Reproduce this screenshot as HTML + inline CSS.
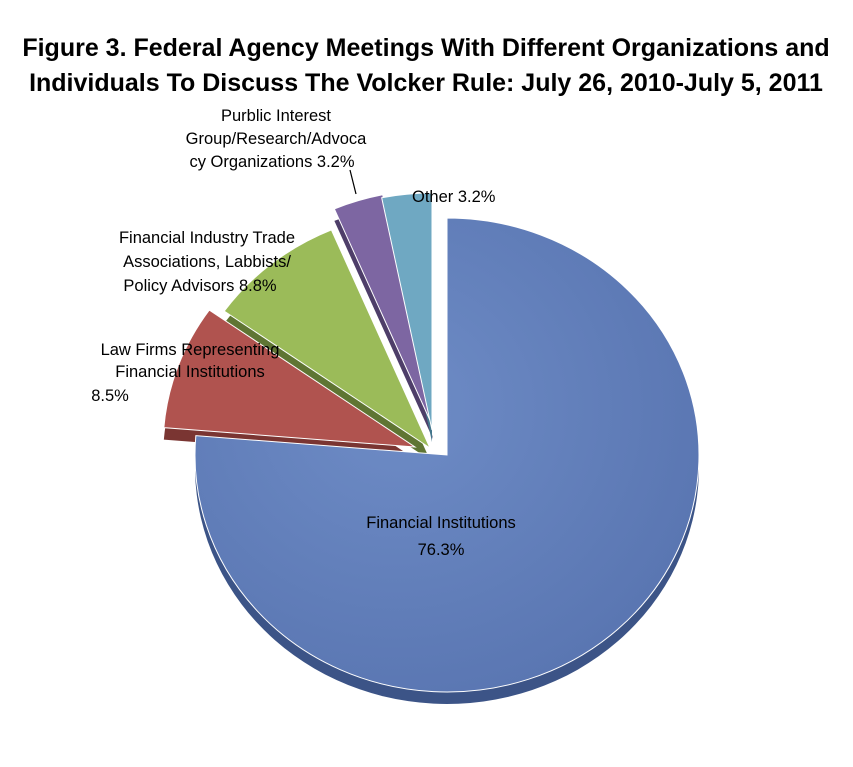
<!DOCTYPE html>
<html><head><meta charset="utf-8"><style>
html,body{margin:0;padding:0;background:#fff;width:853px;height:767px;overflow:hidden}
svg{display:block}
text{font-family:"Liberation Sans",sans-serif}
</style></head><body>
<svg id="chart" width="853" height="767">
<defs>
<radialGradient id="gBlue" cx="0.4" cy="0.4" r="0.7"><stop offset="0" stop-color="#6e8cc6"/><stop offset="1" stop-color="#5874b0"/></radialGradient>
</defs>
<text x="426" y="56" text-anchor="middle" font-size="25" font-weight="bold" fill="#000">Figure 3. Federal Agency Meetings With Different Organizations and</text>
<text x="426" y="91" text-anchor="middle" font-size="25" font-weight="bold" fill="#000">Individuals To Discuss The Volcker Rule: July 26, 2010-July 5, 2011</text>
<g id="slices"></g>
<g id="labels" font-size="16.5" fill="#000">
<text x="441" y="528" text-anchor="middle"><tspan x="441">Financial Institutions</tspan><tspan x="441" dy="27">76.3%</tspan></text>
<text x="190" y="355" text-anchor="middle"><tspan x="190">Law Firms Representing</tspan><tspan x="190" dy="22">Financial Institutions</tspan><tspan x="110" dy="24">8.5%</tspan></text>
<text x="207" y="243" text-anchor="middle"><tspan x="207">Financial  Industry Trade</tspan><tspan x="207" dy="24">Associations, Labbists/</tspan><tspan x="200" dy="24">Policy Advisors  8.8%</tspan></text>
<text x="276" y="121" text-anchor="middle"><tspan x="276">Purblic  Interest</tspan><tspan x="276" dy="23">Group/Research/Advoca</tspan><tspan x="272" dy="23">cy Organizations 3.2%</tspan></text>
<text x="412" y="202">Other 3.2%</text>
</g>
<line x1="350" y1="170" x2="356" y2="194" stroke="#000" stroke-width="1.2"/>
</svg>
<script>
const categories = ["Financial Institutions","Law Firms Representing Financial Institutions","Financial Industry Trade Associations, Labbists/Policy Advisors","Purblic Interest Group/Research/Advocacy Organizations","Other"];
const values = [76.3, 8.5, 8.8, 3.2, 3.2];
const colors = ["#6480bb","#b0534f","#9bbb59","#7d66a2","#6fa8c2"];
const sideColors = ["#3c5487","#7a3532","#5f7533","#4e3e69","#44768c"];
const explodeX = [0,-32,-17,-14,-15];
const explodeY = [0,-8,-7,-28,-25];
const cx=447, cy=455, rx=252, ry=237, depth=12;
const g=document.getElementById('slices');
const ns="http://www.w3.org/2000/svg";
const total=values.reduce((a,b)=>a+b,0);
function pt(x0,y0,a,dy){return [x0+rx*Math.sin(a), y0-ry*Math.cos(a)+(dy||0)];}
function arcPath(x0,y0,a0,a1,dy){
  const p0=pt(x0,y0,a0,dy), p1=pt(x0,y0,a1,dy);
  const large=(a1-a0)>Math.PI?1:0;
  return `M${x0},${y0+(dy||0)} L${p0[0]},${p0[1]} A${rx},${ry} 0 ${large} 1 ${p1[0]},${p1[1]} Z`;
}
let acc=0;
const geo=[];
values.forEach((v,i)=>{
  const a0=acc/total*2*Math.PI; acc+=v; const a1=acc/total*2*Math.PI;
  geo.push([a0,a1,cx+explodeX[i],cy+explodeY[i]]);
});
geo.forEach((s,i)=>{
  const p=document.createElementNS(ns,'path');
  p.setAttribute('d',arcPath(s[2],s[3],s[0],s[1],depth));
  p.setAttribute('fill',sideColors[i]);
  
  
  g.appendChild(p);
});
geo.forEach((s,i)=>{
  const p=document.createElementNS(ns,'path');
  p.setAttribute('d',arcPath(s[2],s[3],s[0],s[1],0));
  p.setAttribute('fill',i===0?'url(#gBlue)':colors[i]);
  p.setAttribute('stroke','#fff');
  p.setAttribute('stroke-width','1');
  
  
  g.appendChild(p);
});
</script>
</body></html>
